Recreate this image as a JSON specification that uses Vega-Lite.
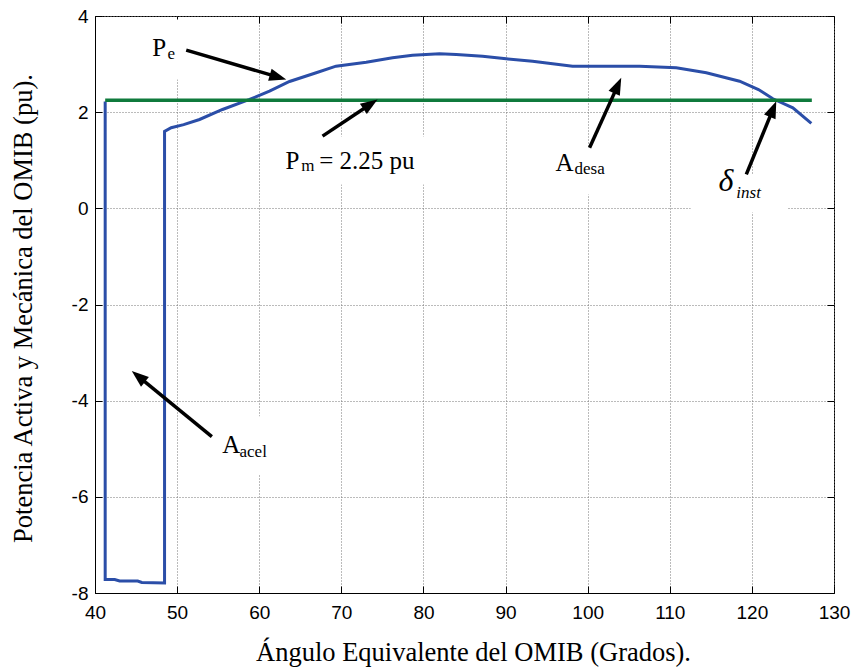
{
  "$schema": "https://vega.github.io/schema/vega-lite/v6.json",
  "width": 739,
  "height": 577,
  "autosize": "none",
  "padding": {"left": 95, "top": 16, "right": 24, "bottom": 78},
  "background": "white",
  "config": {
    "view": {"stroke": "black", "strokeWidth": 1},
    "axis": {
      "labelFont": "Liberation Sans",
      "labelFontSize": 19,
      "labelColor": "black",
      "tickColor": "black",
      "domainColor": "black",
      "titleFont": "Liberation Serif",
      "titleFontSize": 26.5,
      "titleFontWeight": "normal",
      "titleColor": "black",
      "labelFlush": false,
      "labelOverlap": false
    }
  },
  "datasets": {
    "pe": [
      {"i": 1, "angle": 41.24, "p": 2.22},
      {"i": 2, "angle": 41.24, "p": -7.72},
      {"i": 3, "angle": 42.4, "p": -7.72},
      {"i": 4, "angle": 43.0, "p": -7.75},
      {"i": 5, "angle": 45.2, "p": -7.75},
      {"i": 6, "angle": 45.7, "p": -7.78},
      {"i": 7, "angle": 48.47, "p": -7.79},
      {"i": 8, "angle": 48.47, "p": 1.6},
      {"i": 9, "angle": 49.28, "p": 1.676},
      {"i": 10, "angle": 50.8, "p": 1.74},
      {"i": 11, "angle": 52.73, "p": 1.848},
      {"i": 12, "angle": 55.53, "p": 2.056},
      {"i": 13, "angle": 58.82, "p": 2.264},
      {"i": 14, "angle": 61.25, "p": 2.437},
      {"i": 15, "angle": 63.69, "p": 2.638},
      {"i": 16, "angle": 66.94, "p": 2.819},
      {"i": 17, "angle": 69.35, "p": 2.956},
      {"i": 18, "angle": 73.03, "p": 3.04},
      {"i": 19, "angle": 76.24, "p": 3.131},
      {"i": 20, "angle": 78.67, "p": 3.185},
      {"i": 21, "angle": 81.96, "p": 3.214},
      {"i": 22, "angle": 84.0, "p": 3.2},
      {"i": 23, "angle": 87.2, "p": 3.164},
      {"i": 24, "angle": 90.08, "p": 3.11},
      {"i": 25, "angle": 93.29, "p": 3.06},
      {"i": 26, "angle": 95.73, "p": 3.006},
      {"i": 27, "angle": 98.16, "p": 2.956},
      {"i": 28, "angle": 106.32, "p": 2.956},
      {"i": 29, "angle": 110.79, "p": 2.923},
      {"i": 30, "angle": 114.45, "p": 2.819},
      {"i": 31, "angle": 118.5, "p": 2.644},
      {"i": 32, "angle": 120.8, "p": 2.47},
      {"i": 33, "angle": 122.56, "p": 2.279},
      {"i": 34, "angle": 124.99, "p": 2.091},
      {"i": 35, "angle": 127.24, "p": 1.765}
    ],
    "pm": [
      {"angle": 41.24, "p": 2.25},
      {"angle": 127.3, "p": 2.25}
    ],
    "boxes": [
      {"x1": 45.42, "x2": 51.14, "y1": 3.927, "y2": 2.68},
      {"x1": 60.65, "x2": 81.96, "y1": 1.495, "y2": 0.497},
      {"x1": 94.75, "x2": 103.89, "y1": 1.266, "y2": 0.289},
      {"x1": 112.55, "x2": 124.37, "y1": 0.705, "y2": -0.085},
      {"x1": 52.73, "x2": 63.69, "y1": -4.326, "y2": -5.532}
    ],
    "arrows": [
      {"tx": 51.11, "ty": 3.289, "bx": 62.12, "by": 2.738, "hx": 63.29, "hy": 2.68, "dir": 106.3},
      {"tx": 67.71, "ty": 1.501, "bx": 73.4, "by": 2.148, "hx": 74.41, "hy": 2.264, "dir": 56.3},
      {"tx": 100.23, "ty": 1.26, "bx": 103.59, "by": 2.526, "hx": 104.09, "hy": 2.715, "dir": 24.4},
      {"tx": 119.32, "ty": 0.705, "bx": 122.51, "by": 2.036, "hx": 122.97, "hy": 2.229, "dir": 22.3},
      {"tx": 54.23, "ty": -4.749, "bx": 45.42, "by": -3.516, "hx": 44.48, "hy": -3.385, "dir": -50.6}
    ],
    "main": [
      {"x": 46.97, "y": 3.164, "t": "P"},
      {"x": 63.2, "y": 0.823, "t": "P"},
      {"x": 67.3, "y": 0.823, "t": "= 2.25 pu"},
      {"x": 96.09, "y": 0.773, "t": "A"},
      {"x": 55.49, "y": -5.081, "t": "A"}
    ],
    "sub": [
      {"x": 48.83, "y": 3.106, "t": "e"},
      {"x": 65.12, "y": 0.773, "t": "m"},
      {"x": 98.4, "y": 0.705, "t": "desa"},
      {"x": 57.6, "y": -5.164, "t": "acel"}
    ],
    "greek": [
      {"x": 115.94, "y": 0.358, "t": "δ"}
    ],
    "greeksub": [
      {"x": 118.1, "y": 0.22, "t": "inst"}
    ]
  },
  "layer": [
    {
      "data": {"name": "boxes"},
      "mark": {"type": "rect", "color": "white", "opacity": 1},
      "encoding": {
        "x": {"field": "x1", "type": "quantitative", "axis": null},
        "x2": {"field": "x2"},
        "y": {"field": "y1", "type": "quantitative", "axis": null},
        "y2": {"field": "y2"}
      }
    },
    {
      "data": {"name": "pe"},
      "mark": {"type": "line", "color": "#2b4ea8", "strokeWidth": 3},
      "encoding": {
        "x": {
          "field": "angle", "type": "quantitative",
          "scale": {"domain": [40, 130], "nice": false, "zero": false},
          "axis": {
            "orient": "bottom",
            "values": [40, 50, 60, 70, 80, 90, 100, 110, 120, 130],
            "grid": true, "gridDash": [1, 2], "gridColor": "#777", "gridWidth": 1,
            "tickSize": -7, "labelPadding": 17,
            "title": "Ángulo Equivalente del OMIB (Grados).",
            "titleX": 378, "titleY": 67, "titleAlign": "center", "titleBaseline": "alphabetic"
          }
        },
        "y": {
          "field": "p", "type": "quantitative",
          "scale": {"domain": [-8, 4], "nice": false, "zero": false},
          "axis": {
            "orient": "left",
            "values": [-8, -6, -4, -2, 0, 2, 4],
            "labelExpr": "'' + datum.value",
            "grid": true, "gridDash": [1, 2], "gridColor": "#777", "gridWidth": 1,
            "tickSize": -7, "labelPadding": 14,
            "title": "Potencia Activa y Mecánica del OMIB (pu).",
            "titleAngle": -90, "titleX": -64, "titleY": 292, "titleAlign": "center", "titleBaseline": "alphabetic"
          }
        },
        "order": {"field": "i", "type": "quantitative"}
      }
    },
    {
      "data": {"name": "pm"},
      "mark": {"type": "line", "color": "#0f7a3c", "strokeWidth": 3.5},
      "encoding": {
        "x": {
          "field": "angle", "type": "quantitative",
          "axis": {
            "orient": "top",
            "values": [40, 50, 60, 70, 80, 90, 100, 110, 120, 130],
            "labels": false, "title": null, "grid": false, "domain": false, "tickSize": -7
          }
        },
        "y": {
          "field": "p", "type": "quantitative",
          "axis": {
            "orient": "right",
            "values": [-8, -6, -4, -2, 0, 2, 4],
            "labels": false, "title": null, "grid": false, "domain": false, "tickSize": -7
          }
        }
      }
    },
    {
      "data": {"name": "arrows"},
      "mark": {"type": "rule", "color": "black", "strokeWidth": 3.5},
      "encoding": {
        "x": {"field": "tx", "type": "quantitative", "axis": null},
        "y": {"field": "ty", "type": "quantitative", "axis": null},
        "x2": {"field": "bx"},
        "y2": {"field": "by"}
      }
    },
    {
      "data": {"name": "arrows"},
      "mark": {"type": "point", "filled": true, "color": "black", "opacity": 1, "size": 240, "shape": "M0,0L0.8,2.2L-0.8,2.2Z"},
      "encoding": {
        "x": {"field": "hx", "type": "quantitative", "axis": null},
        "y": {"field": "hy", "type": "quantitative", "axis": null},
        "angle": {"field": "dir", "type": "quantitative", "scale": null}
      }
    },
    {
      "data": {"name": "main"},
      "mark": {"type": "text", "font": "Liberation Serif", "fontSize": 25, "align": "left", "baseline": "alphabetic", "color": "black"},
      "encoding": {
        "x": {"field": "x", "type": "quantitative", "axis": null},
        "y": {"field": "y", "type": "quantitative", "axis": null},
        "text": {"field": "t"}
      }
    },
    {
      "data": {"name": "sub"},
      "mark": {"type": "text", "font": "Liberation Serif", "fontSize": 17, "align": "left", "baseline": "alphabetic", "color": "black"},
      "encoding": {
        "x": {"field": "x", "type": "quantitative", "axis": null},
        "y": {"field": "y", "type": "quantitative", "axis": null},
        "text": {"field": "t"}
      }
    },
    {
      "data": {"name": "greek"},
      "mark": {"type": "text", "font": "Liberation Serif", "fontStyle": "italic", "fontSize": 32, "align": "left", "baseline": "alphabetic", "color": "black"},
      "encoding": {
        "x": {"field": "x", "type": "quantitative", "axis": null},
        "y": {"field": "y", "type": "quantitative", "axis": null},
        "text": {"field": "t"}
      }
    },
    {
      "data": {"name": "greeksub"},
      "mark": {"type": "text", "font": "Liberation Serif", "fontStyle": "italic", "fontSize": 17, "align": "left", "baseline": "alphabetic", "color": "black"},
      "encoding": {
        "x": {"field": "x", "type": "quantitative", "axis": null},
        "y": {"field": "y", "type": "quantitative", "axis": null},
        "text": {"field": "t"}
      }
    }
  ],
  "resolve": {"axis": {"x": "independent", "y": "independent"}}
}
